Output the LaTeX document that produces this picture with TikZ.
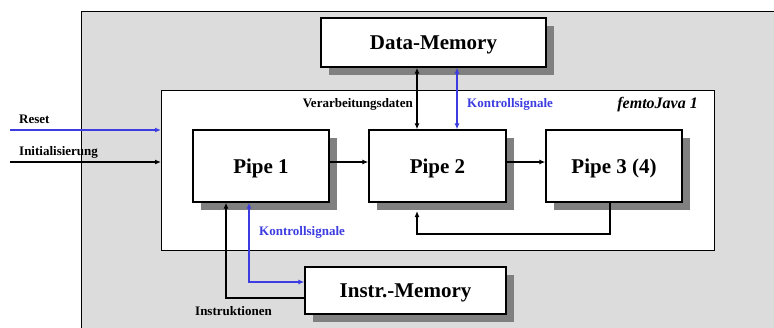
\documentclass[tikz,border=0pt]{standalone}
\usepackage{fontspec}
\setmainfont{Liberation Serif}
\usetikzlibrary{arrows.meta,shadows}
\definecolor{bg}{RGB}{220,220,220}
\definecolor{shade}{RGB}{128,128,128}
\definecolor{sigblue}{RGB}{60,60,225}
\begin{document}
\begin{tikzpicture}[x=1pt,y=-1pt,
  box/.style={draw=black, line width=1.3pt, fill=white, rectangle, inner sep=0pt,
    text depth=0pt, font=\bfseries\fontsize{21}{24}\selectfont,
    drop shadow={shadow xshift=8pt, shadow yshift=-8pt, fill=shade, opacity=1}},
  frame/.style={draw=black, line width=1.3pt, rectangle, inner sep=0pt, anchor=north west},
  lbl/.style={font=\bfseries\fontsize{13}{15}\selectfont, inner sep=0pt, anchor=base west},
  conn/.style={line width=1.2pt, -{Latex[length=6pt,width=5pt]}},
  conntwo/.style={line width=1.2pt, {Latex[length=6pt,width=5pt]}-{Latex[length=6pt,width=5pt]}}
]
\clip (0,0) rectangle (774,327);
% outer chip area
\node[frame, fill=bg, minimum width=760pt, minimum height=360pt] (chip) at (81,10.5) {};
% femtoJava area
\node[frame, fill=white, minimum width=553pt, minimum height=160pt] (femto) at (161,90) {};
% boxes
\node[box, minimum width=225pt, minimum height=49pt] (dm) at (433.5,42.5) {Data-Memory};
\node[box, minimum width=136pt, minimum height=72pt] (p1) at (261,166) {Pipe 1};
\node[box, minimum width=137pt, minimum height=72pt] (p2) at (437.5,166) {Pipe 2};
\node[box, minimum width=136pt, minimum height=72pt] (p3) at (614,166) {Pipe 3 (4)};
\node[box, minimum width=201pt, minimum height=47pt] (im) at (405.5,290.5) {Instr.-Memory};
% labels
\node[lbl] (lreset) at (19,123) {Reset};
\node[lbl] (linit) at (19,155) {Initialisierung};
\node[lbl, anchor=base east] (lverarb) at (413,107) {Verarbeitungsdaten};
\node[lbl, text=sigblue] (lkontr1) at (467,107) {Kontrollsignale};
\node[lbl, anchor=base east, font=\bfseries\itshape\fontsize{16}{18}\selectfont] (lfemto) at (698,108) {femtoJava 1};
\node[lbl, text=sigblue] (lkontr2) at (259,235) {Kontrollsignale};
\node[lbl] (linstr) at (195,315) {Instruktionen};
% helper coordinates
\coordinate (rs) at (10,130);
\coordinate (ini) at (10,162);
\coordinate (yrow) at (0,162);
\coordinate (xa) at (417,0);
\coordinate (xb) at (457,0);
\coordinate (xc) at (610,0);
\coordinate (yfb) at (0,234);
\coordinate (p2sh) at (417,211);
\coordinate (xd) at (226,0);
\coordinate (ye) at (0,298);
\coordinate (xf) at (249,0);
\coordinate (yg) at (0,282);
% connectors
\draw[conn, sigblue] (rs) -- (rs -| femto.west);
\draw[conn] (ini) -- (ini -| femto.west);
\draw[conn] (p1.east |- yrow) -- (p2.west |- yrow);
\draw[conn] (p2.east |- yrow) -- (p3.west |- yrow);
\draw[conntwo] (dm.south -| xa) -- (p2.north -| xa);
\draw[conntwo, sigblue] (dm.south -| xb) -- (p2.north -| xb);
\draw[conn] (p3.south -| xc) -- (xc |- yfb) -- (xa |- yfb) -- (p2sh);
\draw[conn] (im.west |- ye) -- (xd |- ye) -- (p1.south -| xd);
\draw[conntwo, sigblue] (p1.south -| xf) -- (xf |- yg) -- (im.west |- yg);
\end{tikzpicture}
\end{document}
